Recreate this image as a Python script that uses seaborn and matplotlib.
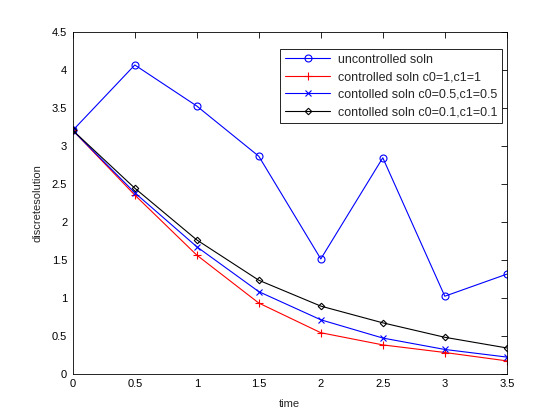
import matplotlib
matplotlib.use("Agg")
import matplotlib.pyplot as plt
import seaborn as sns
import pandas as pd

time = [0, 0.5, 1, 1.5, 2, 2.5, 3, 3.5]
uncontrolled = [3.2, 4.06, 3.52, 2.86, 1.51, 2.84, 1.02, 1.31]
ctrl_1_1 = [3.2, 2.35, 1.56, 0.93, 0.54, 0.38, 0.28, 0.17]
ctrl_05_05 = [3.2, 2.38, 1.67, 1.08, 0.71, 0.47, 0.32, 0.22]
ctrl_01_01 = [3.2, 2.44, 1.76, 1.23, 0.89, 0.67, 0.48, 0.34]
labels = ["uncontrolled soln", "controlled soln c0=1,c1=1",
          "contolled soln c0=0.5,c1=0.5", "contolled soln c0=0.1,c1=0.1"]
xticks = [0, 0.5, 1, 1.5, 2, 2.5, 3, 3.5]
yticks = [0, 0.5, 1, 1.5, 2, 2.5, 3, 3.5, 4, 4.5]

sns.set_theme(style="white")
plt.rcParams['font.family'] = ['Liberation Sans', 'DejaVu Sans']

fig = plt.figure(figsize=(5.6, 4.2), dpi=100)
ax = fig.add_axes([0.13, 0.11, 0.775, 0.815])

series = [uncontrolled, ctrl_1_1, ctrl_05_05, ctrl_01_01]
colors = ["#0000ff", "#ff0000", "#0000ff", "#000000"]
markers = ["o", "+", "x", "D"]
msizes = [5, 6, 4, 3.3]
for vals, lab, c, m, ms in zip(series, labels, colors, markers, msizes):
    df = pd.DataFrame({"time": time, "val": vals})
    sns.lineplot(data=df, x="time", y="val", ax=ax, color=c, marker=m,
                 markersize=ms, markerfacecolor="none", markeredgecolor=c,
                 markeredgewidth=0.8, linewidth=0.8, label=lab)

ax.set_xlim(0, 3.5)
ax.set_ylim(0, 4.5)
ax.set_xticks(xticks)
ax.set_xticklabels([f"{t:g}" for t in xticks])
ax.set_yticks(yticks)
ax.set_yticklabels([f"{t:g}" for t in yticks])
ax.tick_params(direction="in", top=True, right=True, length=4, width=0.6,
               labelsize=8, colors="black", pad=4)
for s in ax.spines.values():
    s.set_color("black")
    s.set_linewidth(0.6)
ax.set_xlabel("time", fontsize=8, labelpad=7)
ax.set_ylabel("discretesolution", fontsize=8, labelpad=7)

leg = ax.legend(loc="upper right", bbox_to_anchor=(0.99, 0.95), fontsize=9,
                frameon=True, fancybox=False, framealpha=1, edgecolor="black",
                borderpad=0.4, labelspacing=0.45, handlelength=3.6,
                handletextpad=0.6, borderaxespad=0)
leg.get_frame().set_linewidth(0.6)

fig.savefig("out.png", dpi=100)
